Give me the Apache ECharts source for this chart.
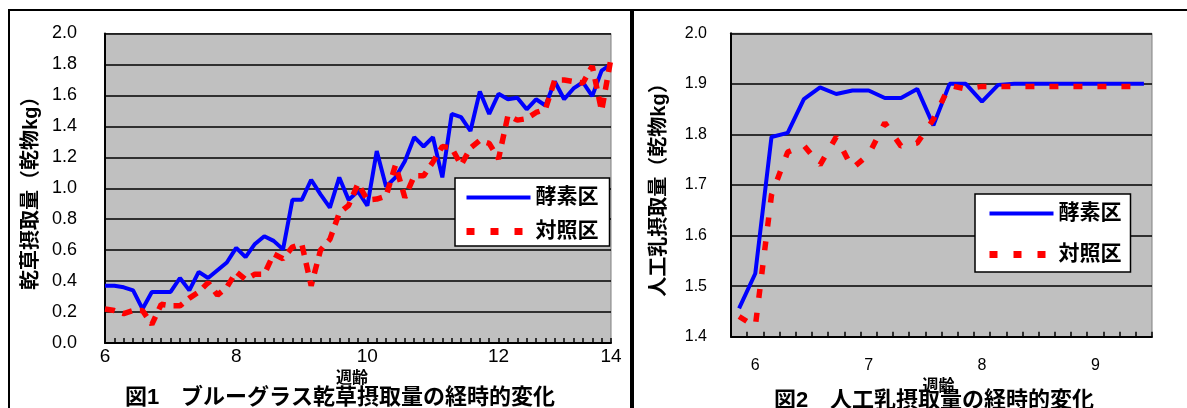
<!DOCTYPE html>
<html>
<head>
<meta charset="utf-8">
<script src="https://cdn.jsdelivr.net/npm/echarts@6/dist/echarts.min.js"></script>
<style>
html,body{margin:0;padding:0;background:#fff;}
#c{width:1187px;height:408px;}
</style>
</head>
<body>
<div id="c"></div>
<script>
// ---- Fig.1 : hay intake (daily points, 6 to 14 weeks) ----
const leftCategories = ['6','','','','','','','','','','','','','',
  '8','','','','','','','','','','','','','',
  '10','','','','','','','','','','','','','',
  '12','','','','','','','','','','','','14'];
const leftEnzyme = [0.37,0.37,0.36,0.34,0.22,0.33,0.33,0.33,0.42,0.34,
  0.46,0.42,0.47,0.52,0.615,0.555,0.64,0.69,0.66,0.605,
  0.925,0.925,1.055,0.96,0.875,1.07,0.925,0.98,0.887,1.24,
  1.01,1.07,1.175,1.33,1.27,1.33,1.07,1.48,1.46,1.37,
  1.625,1.48,1.61,1.575,1.585,1.51,1.575,1.535,1.69,1.575,
  1.645,1.685,1.595,1.76,1.80];
const leftControl = [0.22,0.21,0.19,0.21,0.21,0.12,0.25,0.24,0.24,0.29,
  0.33,0.39,0.31,0.36,0.46,0.41,0.445,0.445,0.575,0.545,
  0.62,0.64,0.37,0.60,0.67,0.84,0.89,1.03,0.925,0.93,
  0.95,1.15,0.94,1.08,1.08,1.17,1.27,1.26,1.15,1.26,
  1.31,1.29,1.19,1.47,1.44,1.45,1.49,1.51,1.70,1.70,
  1.69,1.68,1.79,1.50,1.84];

// ---- Fig.2 : milk replacer intake ----
const rightCategories = ['','6','','','','','','','7','','','','','','','8','','','','','','','9','','',''];
const rightEnzyme = [1.456,1.525,1.795,1.803,1.87,1.893,1.88,1.887,1.887,1.872,
  1.872,1.89,1.818,1.90,1.90,1.865,1.898,1.90,1.90,1.90,
  1.90,1.90,1.90,1.90,1.90,1.90];
const rightControl = [1.44,1.42,1.68,1.765,1.778,1.74,1.795,1.733,1.76,1.823,
  1.777,1.783,1.83,1.897,1.89,1.895,1.895,1.895,1.895,1.895,
  1.895,1.895,1.895,1.895,1.895,1.895];

const seriesNames = ['酵素区','対照区'];
const titles = ['図1　ブルーグラス乾草摂取量の経時的変化','図2　人工乳摂取量の経時的変化'];
const yNames = ['乾草摂取量（乾物kg）','人工乳摂取量（乾物kg）'];
const xName = '週齢';

const LAT = "'Liberation Sans', Arial, sans-serif";
const CJK = "'Liberation Sans', 'Noto Sans CJK JP', sans-serif";
const BLUE = '#0000ff', RED = '#ff0000';

const chart = echarts.init(document.getElementById('c'), null, {renderer:'canvas'});

function xAxisCommon(extra){
  return Object.assign({
    type:'category',
    axisLine:{show:true, lineStyle:{color:'#000', width:2}},
    axisTick:{show:true, inside:true, length:5, interval:0, lineStyle:{color:'#000', width:1.5}},
    splitLine:{show:false},
    name:xName, nameLocation:'middle'
  }, extra);
}
function yAxisCommon(extra){
  return Object.assign({
    type:'value',
    axisLine:{show:true, lineStyle:{color:'#000', width:2}},
    axisTick:{show:false},
    splitLine:{show:true, lineStyle:{color:'#000', width:1.5}},
    nameLocation:'middle', nameRotate:90,
    nameTextStyle:{fontFamily:CJK, fontWeight:'bold', fontSize:20, color:'#000'}
  }, extra);
}

const legendText = {fontFamily:CJK, fontWeight:'bold', fontSize:21, color:'#000'};
const legendData = [
  {name:seriesNames[0], lineStyle:{width:4, color:BLUE}, itemStyle:{opacity:0}},
  {name:seriesNames[1], lineStyle:{width:7, color:RED, type:[8,16]}, itemStyle:{opacity:0}}
];

chart.setOption({
  animation:false,
  backgroundColor:'#fff',
  grid:[
    {left:105, top:33.5, width:506, height:309.5, containLabel:false, show:true,
     backgroundColor:'#c0c0c0', borderColor:'#808080', borderWidth:1},
    {left:731, top:33.3, width:421, height:303.4, containLabel:false, show:true,
     backgroundColor:'#c0c0c0', borderColor:'#808080', borderWidth:1}
  ],
  xAxis:[
    xAxisCommon({gridIndex:0, data:leftCategories, boundaryGap:false, nameGap:25,
      nameTextStyle:{fontFamily:CJK, fontWeight:'bold', fontSize:16, color:'#000', verticalAlign:'top', padding:[0,12,0,0]},
      axisLabel:{interval:0, margin:4, fontFamily:LAT, fontSize:19, color:'#000'}}),
    xAxisCommon({gridIndex:1, data:rightCategories, boundaryGap:true, nameGap:32,
      nameTextStyle:{fontFamily:CJK, fontWeight:'bold', fontSize:16, color:'#000', verticalAlign:'top', padding:[0,6,0,0]},
      axisLabel:{interval:0, margin:21, fontFamily:LAT, fontSize:16, color:'#000'}})
  ],
  yAxis:[
    yAxisCommon({gridIndex:0, min:0, max:2.0, interval:0.2, name:yNames[0], nameGap:64,
      axisLabel:{margin:28, fontFamily:LAT, fontSize:18, color:'#000', formatter:v=>v.toFixed(1)}}),
    yAxisCommon({gridIndex:1, min:1.4, max:2.0, interval:0.1, name:yNames[1], nameGap:62,
      axisLabel:{margin:24, fontFamily:LAT, fontSize:16, color:'#000', formatter:v=>v.toFixed(1)}})
  ],
  legend:[
    {orient:'vertical', left:455, top:178, padding:[9,11,4,8], itemGap:13,
     itemWidth:64, itemHeight:22, backgroundColor:'#fff', borderColor:'#000', borderWidth:1.5,
     borderRadius:0, selectedMode:false, textStyle:legendText, data:legendData},
    {orient:'vertical', left:975, top:194, padding:[9,9,7,11], itemGap:20,
     itemWidth:64, itemHeight:22, backgroundColor:'#fff', borderColor:'#000', borderWidth:1.5,
     borderRadius:0, selectedMode:false, textStyle:legendText, data:legendData}
  ],
  graphic:[
    {type:'rect', silent:true, shape:{x:9, y:10, width:622, height:420},
     style:{fill:'none', stroke:'#000', lineWidth:2}},
    {type:'rect', silent:true, shape:{x:633, y:10, width:600, height:420},
     style:{fill:'none', stroke:'#000', lineWidth:2}},
    {type:'text', silent:true, x:340, y:387,
     style:{text:titles[0], textAlign:'center', textVerticalAlign:'top', fill:'#000',
       font:"bold 22px 'Liberation Sans', 'Noto Sans CJK JP', sans-serif"}},
    {type:'text', silent:true, x:934, y:390,
     style:{text:titles[1], textAlign:'center', textVerticalAlign:'top', fill:'#000',
       font:"bold 22px 'Liberation Sans', 'Noto Sans CJK JP', sans-serif"}}
  ],
  series:[
    {name:seriesNames[0], type:'line', xAxisIndex:0, yAxisIndex:0, data:leftEnzyme,
     symbol:'none', lineStyle:{color:BLUE, width:4}, itemStyle:{color:BLUE}, z:3},
    {name:seriesNames[1], type:'line', xAxisIndex:0, yAxisIndex:0, data:leftControl,
     symbol:'none', lineStyle:{color:RED, width:5.5, type:[10,8], cap:'butt'}, itemStyle:{color:RED}, z:4},
    {name:seriesNames[0], type:'line', xAxisIndex:1, yAxisIndex:1, data:rightEnzyme,
     symbol:'none', lineStyle:{color:BLUE, width:4}, itemStyle:{color:BLUE}, z:3},
    {name:seriesNames[1], type:'line', xAxisIndex:1, yAxisIndex:1, data:rightControl,
     symbol:'none', lineStyle:{color:RED, width:5.5, type:[9,15], cap:'butt'}, itemStyle:{color:RED}, z:4}
  ]
});
</script>
</body>
</html>
